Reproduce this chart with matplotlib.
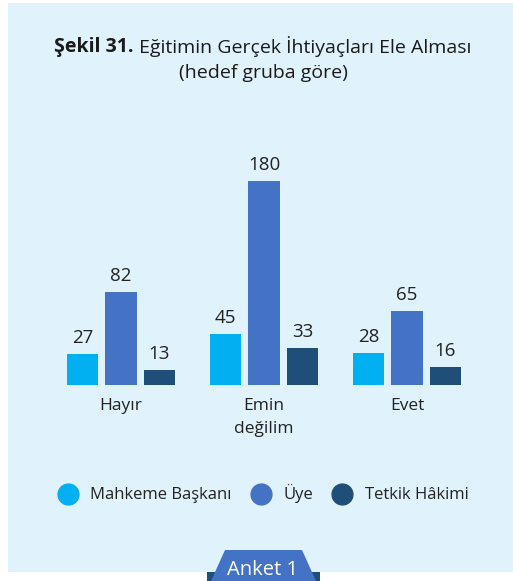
import matplotlib.pyplot as plt
from matplotlib.patches import Rectangle, Polygon
from matplotlib.lines import Line2D
import numpy as np

plt.rcParams['font.family'] = ['Open Sans', 'DejaVu Sans']

categories = ['Hayır', 'Emin\ndeğilim', 'Evet']
series = ['Mahkeme Başkanı', 'Üye', 'Tetkik Hâkimi']
mahkeme = [27, 45, 28]
uye = [82, 180, 65]
tetkik = [13, 33, 16]
colors = ['#00B0F0', '#4472C4', '#1F4E79']

W, H = 513, 581
fig = plt.figure(figsize=(W / 100, H / 100), dpi=100, facecolor='white')


def fx(px):
    return px / W


def fy(py):
    return 1 - py / H


# background panel
fig.patches.append(Rectangle((fx(8), fy(572)), fx(505), (572 - 3) / H,
                             transform=fig.transFigure, facecolor='#E0F2FC',
                             edgecolor='none', zorder=-5))

# title
r = fig.canvas.get_renderer()
t1 = fig.text(0, fy(47), 'Şekil 31.', fontsize=14, fontweight='bold',
              color='#1a1a1a', va='center', ha='left')
t2 = fig.text(0, fy(47), ' Eğitimin Gerçek İhtiyaçları Ele Alması', fontsize=14,
              color='#1a1a1a', va='center', ha='left')
w1 = t1.get_window_extent(r).width
w2 = t2.get_window_extent(r).width
x0 = 263 - (w1 + w2) / 2
t1.set_x(fx(x0))
t2.set_x(fx(x0 + w1))
fig.text(fx(263), fy(73), '(hedef gruba göre)', fontsize=14, color='#1a1a1a',
         va='center', ha='center')

# bars
ax = fig.add_axes([fx(49.5), fy(385), fx(429), 226.8 / H])
ax.set_zorder(2)
ax.set_facecolor('none')
x = np.arange(len(categories))
bw = 0.217
step = 0.269
for i, (vals, c) in enumerate(zip([mahkeme, uye, tetkik], colors)):
    bars = ax.bar(x + (i - 1) * step, vals, width=bw, color=c, zorder=2)
    for b, v in zip(bars, vals):
        ax.annotate(str(v), (b.get_x() + b.get_width() / 2, v),
                    xytext=(0, 5), textcoords='offset points',
                    ha='center', va='bottom', fontsize=13.5, color='#222222')
ax.set_xlim(-0.5, 2.5)
ax.set_ylim(0, 200)
ax.set_xticks(x)
ax.set_xticklabels(categories, fontsize=12.5, color='#222222', linespacing=1.55)
ax.tick_params(axis='x', length=0, pad=9.5)
ax.set_yticks([])
for s in ax.spines.values():
    s.set_visible(False)

# legend
handles = [Line2D([], [], marker='o', linestyle='none', markersize=15,
                  markerfacecolor=c, markeredgecolor=c) for c in colors]
fig.legend(handles, series, loc='center', bbox_to_anchor=(fx(264), fy(494)),
           ncol=3, frameon=False, fontsize=12, handlelength=1.0,
           handletextpad=0.85, columnspacing=1.25, labelcolor='#222222')

# "Anket 1" tab
fig.patches.append(Rectangle((fx(207), 0), fx(113), 9 / H,
                             transform=fig.transFigure, facecolor='#1F4E79',
                             edgecolor='none', zorder=1))
fig.patches.append(Polygon([(fx(211), fy(581)), (fx(225), fy(550)),
                            (fx(302), fy(550)), (fx(316), fy(581))],
                           closed=True, transform=fig.transFigure,
                           facecolor='#4472C4', edgecolor='none', zorder=2))
fig.text(fx(263), fy(570), 'Anket 1', fontsize=14.5, color='white',
         ha='center', va='center', zorder=3)

fig.savefig('out.png', dpi=100, facecolor='white')
